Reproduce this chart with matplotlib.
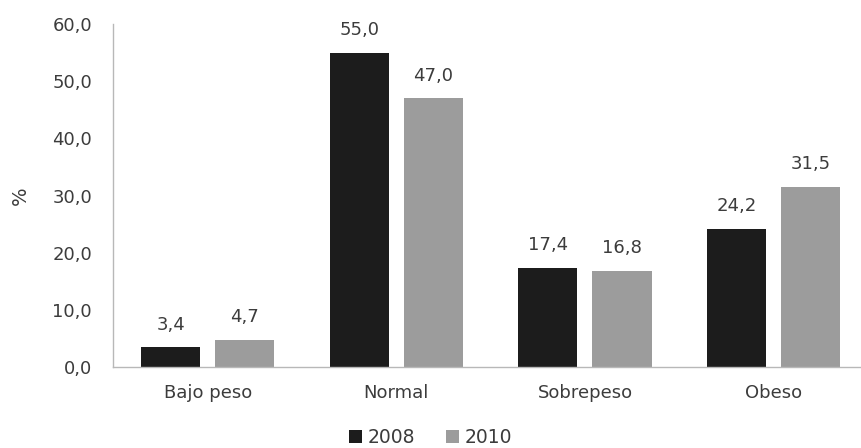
import matplotlib
matplotlib.use("Agg")
import matplotlib.pyplot as plt
import numpy as np

# data
categories = ["Bajo peso", "Normal", "Sobrepeso", "Obeso"]
years = ["2008", "2010"]
values_2008 = [3.4, 55.0, 17.4, 24.2]
values_2010 = [4.7, 47.0, 16.8, 31.5]
yticks = [0, 10, 20, 30, 40, 50, 60]

plt.rcParams['font.family'] = ['DejaVu Sans']
text_col = '#3c3c3c'

fig = plt.figure(figsize=(8.61, 4.48), dpi=100)
ax = fig.add_axes([0.131, 0.181, 0.869, 0.765])

x = np.arange(len(categories))
w = 0.313
gap = 0.08
b1 = ax.bar(x - (w + gap) / 2, values_2008, w, color='#1c1c1c', label=years[0])
b2 = ax.bar(x + (w + gap) / 2, values_2010, w, color='#9c9c9c', label=years[1])

# value labels
for bars in (b1, b2):
    for rect in bars:
        h = rect.get_height()
        ax.annotate(f"{h:.1f}".replace('.', ','),
                    (rect.get_x() + rect.get_width() / 2, h),
                    xytext=(0, 10), textcoords='offset points',
                    ha='center', va='bottom', fontsize=13, color=text_col)

ax.set_ylim(0, 60)
ax.set_xlim(-0.504, 3.464)
ax.set_yticks(yticks)
ax.set_yticklabels([f"{t:.1f}".replace('.', ',') for t in yticks])
ax.set_xticks(x)
ax.set_xticklabels(categories)
ax.tick_params(axis='both', length=0, labelsize=13, colors=text_col)
ax.tick_params(axis='y', pad=15)
ax.tick_params(axis='x', pad=12)
ax.set_ylabel('%', fontsize=14, color=text_col, labelpad=16)

for s in ['top', 'right']:
    ax.spines[s].set_visible(False)
for s in ['left', 'bottom']:
    ax.spines[s].set_color('#b8b8b8')
    ax.spines[s].set_linewidth(1.0)

fig.legend(loc='lower center', bbox_to_anchor=(0.5, -0.035), ncol=2,
           frameon=False, fontsize=13.5, handlelength=0.7, handleheight=0.7,
           handletextpad=0.3, columnspacing=1.6, labelcolor=text_col)

fig.savefig('out.png', dpi=100)
